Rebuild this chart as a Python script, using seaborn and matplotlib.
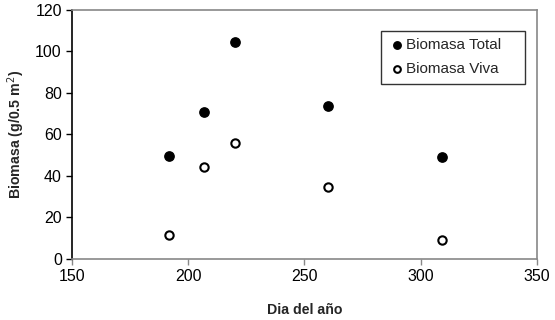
import numpy as np
import pandas as pd
import matplotlib
matplotlib.use('Agg')
import matplotlib.pyplot as plt
import seaborn as sns

dias = [192, 207, 220, 260, 309]
biomasa_total = [49.5, 71, 104.5, 73.5, 49]
biomasa_viva = [11.7, 44.5, 56, 34.5, 9.3]

df = pd.DataFrame({'dia': dias + dias,
                   'biomasa': biomasa_total + biomasa_viva,
                   'serie': ['Biomasa Total'] * len(dias) + ['Biomasa Viva'] * len(dias)})

sns.set_style('white')
plt.rcParams['font.family'] = ['Liberation Sans', 'DejaVu Sans']

fig = plt.figure(figsize=(5.55, 3.2), dpi=100)
ax = fig.add_axes([0.129, 0.191, 0.839, 0.778])

tot = df[df['serie'] == 'Biomasa Total']
viva = df[df['serie'] == 'Biomasa Viva']
sns.scatterplot(data=tot, x='dia', y='biomasa', ax=ax, color='black',
                edgecolor='black', s=45, linewidth=1, label='Biomasa Total', zorder=3)
sns.scatterplot(data=viva, x='dia', y='biomasa', ax=ax, color='white',
                edgecolor='black', s=36, linewidth=1.5, label='Biomasa Viva', zorder=3)

ax.set_xlim(150, 350)
ax.set_ylim(0, 120)
ax.set_xticks(np.arange(150, 351, 50))
ax.set_yticks(np.arange(0, 121, 20))
ax.tick_params(axis='both', direction='out', length=4, width=1, colors='black',
               labelsize=11.5, bottom=True, left=True, pad=3)
ax.tick_params(axis='x', color='#888888')

ax.set_xlabel('Dia del año', fontsize=10.2, fontweight='bold', labelpad=14)
ax.set_ylabel('Biomasa (g/0.5 m$^{2}$)', fontsize=10.2, fontweight='bold', labelpad=6)

ax.spines['left'].set_color('black')
for s in ['top', 'right', 'bottom']:
    ax.spines[s].set_color('#888888')
for s in ax.spines.values():
    s.set_linewidth(1.2)

# legend box stretched to the same width as the original
leg = ax.legend(loc='upper left', bbox_to_anchor=(0.665, 0.707, 0.309, 0.209), mode='expand',
                fontsize=11, frameon=True, fancybox=False, edgecolor='black', markerscale=0.8,
                handletextpad=0.1, handlelength=1.0, borderpad=0.5, labelspacing=0.65,
                borderaxespad=0)
leg.get_frame().set_linewidth(1)

fig.savefig('out.png', dpi=100)
